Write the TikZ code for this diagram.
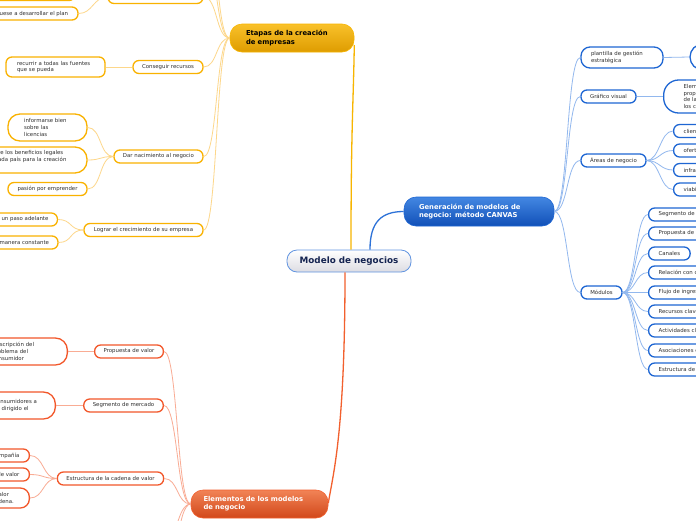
\documentclass[tikz,border=0pt]{standalone}
\usepackage{fontspec}
\setmainfont{DejaVu Sans}
\usetikzlibrary{calc}

\definecolor{txt}{HTML}{303030}
\definecolor{ogline}{HTML}{F7B500}
\definecolor{oglight}{HTML}{FDD78A}
\definecolor{ogbox}{HTML}{F9B200}
\definecolor{ogtop}{HTML}{F9C12A}
\definecolor{ogbot}{HTML}{DE9C00}
\definecolor{blline}{HTML}{2D72D8}
\definecolor{bllight}{HTML}{92B8EE}
\definecolor{blbox}{HTML}{1E66D3}
\definecolor{bltop}{HTML}{4387E2}
\definecolor{blbot}{HTML}{1150B8}
\definecolor{rdline}{HTML}{F2602E}
\definecolor{rdlight}{HTML}{F9AC94}
\definecolor{rdbox}{HTML}{F2572A}
\definecolor{rdtop}{HTML}{F18356}
\definecolor{rdbot}{HTML}{D2481A}

\tikzset{
  box/.style={draw=#1, line width=1.3pt, fill=white, rounded corners=6pt, text=txt,
    font=\fontsize{5.4}{6.9}\selectfont, minimum height=13pt, inner xsep=9pt, inner ysep=2pt},
  multi/.style={align=left},
  topic/.style n args={3}{top color=#1, bottom color=#2, draw=#3, line width=0.6pt,
    rounded corners=12pt, align=left, minimum height=28pt, inner ysep=3pt,
    font=\bfseries\fontsize{6.8}{8.2}\selectfont},
  twig/.style={draw=#1, line width=0.8pt},
  trunk/.style={draw=#1, line width=1.3pt},
}

\begin{document}
\begin{tikzpicture}[x=1pt, y=-1pt]
  \path[use as bounding box] (0,0) rectangle (696,520);
  \clip (0,0) rectangle (696,520);
  \fill[white] (0,0) rectangle (696,520);

  % ------------------------------------------------------------------ centre
  \node[top color=white, bottom color=blue!10!gray!25, draw=blbox!70, line width=0.8pt,
        rounded corners=10pt, minimum width=124pt, minimum height=22pt,
        text={rgb,255:red,20;green,35;blue,80}, font=\bfseries\fontsize{8.8}{10}\selectfont]
    (modelo) at (349,261) {Modelo de negocios};

  % ------------------------------------------------------------------ etapas (orange)
  \node[topic={ogtop}{ogbot}{ogline}, text=black, text width=92pt, inner xsep=16pt]
    (etapas) at (292,38) {Etapas de la creación\\de empresas};
  \node[box=ogbox, minimum width=95pt] (plan) at (155.5,-3) {Hacer un plan de negocio};
  \node[box=ogbox, minimum width=90pt] (plantop) at (30,-6) {};
  \node[box=ogbox, minimum width=104pt] (dedicar) at (26,13.5) {Dedíquese a desarrollar el plan};
  \node[box=ogbox, minimum width=70pt] (recursos) at (168,67) {Conseguir recursos};
  \node[box=ogbox, multi, text width=77pt, inner xsep=11pt, minimum height=20pt]
    (fuentes) at (55.5,67) {recurrir a todas las fuentes\\que se pueda};
  \node[box=ogbox, minimum width=89pt] (nacimiento) at (158.5,156.5) {Dar nacimiento al negocio};
  \node[box=ogbox, multi, text width=47pt, inner xsep=16pt, minimum height=27pt, rounded corners=12pt]
    (licencias) at (47.5,127.5) {informarse bien\\sobre las\\licencias};
  \node[box=ogbox, multi, text width=112pt, inner xsep=10.5pt, minimum height=26pt, rounded corners=12pt]
    (legales) at (20.5,160) {Conocer sobre los beneficios legales\\que ofrece cada país para la creación\\de empresas};
  \node[box=ogbox, minimum width=79pt] (pasion) at (47.5,189) {pasión por emprender};
  \node[box=ogbox, minimum width=119pt] (crecimiento) at (143.5,230) {Lograr el crecimiento de su empresa};
  \node[box=ogbox, minimum width=93pt] (adelante) at (10.5,219.5) {Ir siempre un paso adelante};
  \node[box=ogbox, minimum width=96pt] (constante) at (9,242.5) {Innovar de manera constante};
  \coordinate (up1) at (204,-40);
  \coordinate (up2) at (204,-80);

  \foreach \c in {plan,recursos,nacimiento,crecimiento}
    \draw[twig=oglight] (etapas.west) .. controls +(-14,0) and +(14,0) .. (\c.east);
  \foreach \c in {up1,up2}
    \draw[twig=oglight] (etapas.west) .. controls +(-14,0) and +(14,0) .. (\c);
  \foreach \p/\c in {plan/plantop, plan/dedicar, recursos/fuentes, nacimiento/licencias,
      nacimiento/legales, nacimiento/pasion, crecimiento/adelante, crecimiento/constante}
    \draw[twig=oglight] (\p.west) .. controls +(-14,0) and +(14,0) .. (\c.east);

  % ------------------------------------------------------------------ CANVAS (blue)
  \node[topic={bltop}{blbot}{blbox}, text=white, text width=120pt, inner xsep=15pt, minimum height=29pt]
    (canvas) at (479,211.5) {Generación de modelos de\\negocio: método CANVAS};
  \node[box=blbox, multi, text width=62pt, inner xsep=10pt, minimum height=21pt, rounded corners=9pt]
    (plantilla) at (622,57.5) {plantilla de gestión\\estratégica};
  \node[box=blbox, minimum width=80pt, minimum height=26pt, rounded corners=13pt] (lienzo) at (730,57) {};
  \node[box=blbox, minimum width=55pt] (grafico) at (608.5,96.5) {Gráfico visual};
  \node[box=blbox, multi, text width=70pt, inner xsep=20pt, minimum height=33pt, rounded corners=15pt, anchor=west]
    (elem) at (663,96.5) {Elementos de la\\propuesta de valor\\de la empresa y\\los clientes};
  \node[box=blbox, minimum width=65pt] (areas) at (613.5,160.5) {Áreas de negocio};
  \foreach \n/\y/\t in {cli/131/clientes, ofe/150.5/oferta, inf/170/infraestructura, via/189.5/viabilidad}
    \node[box=blbox, anchor=west, inner xsep=10pt] (\n) at (673,\y) {\t};
  \node[box=blbox, minimum width=41pt] (modulos) at (601.5,292.5) {Módulos};
  \foreach \n/\y/\t in {m1/214.5/Segmento de clientes, m2/233.5/Propuesta de valor, m3/253.5/Canales,
      m4/272.5/Relación con clientes, m5/292.5/Flujo de ingresos, m6/311.5/Recursos clave,
      m7/330.5/Actividades clave, m8/350.5/Asociaciones clave, m9/369.5/Estructura de costos}
    \node[box=blbox, anchor=west, inner xsep=10pt] (\n) at (648,\y) {\t};

  \foreach \c in {plantilla,grafico,areas,modulos}
    \draw[twig=bllight] (canvas.east) .. controls +(14,0) and +(-14,0) .. (\c.west);
  \foreach \p/\c in {plantilla/lienzo, grafico/elem, areas/cli, areas/ofe, areas/inf, areas/via,
      modulos/m1, modulos/m2, modulos/m3, modulos/m4, modulos/m5, modulos/m6, modulos/m7, modulos/m8, modulos/m9}
    \draw[twig=bllight] (\p.east) .. controls +(13,0) and +(-13,0) .. (\c.west);

  % ------------------------------------------------------------------ elementos (red)
  \node[topic={rdtop}{rdbot}{rdline}, text=white, text width=112pt, inner xsep=12.5pt]
    (elementos) at (259.5,504) {Elementos de los modelos\\de negocio};
  \node[box=rdbox, minimum width=68pt] (propuesta) at (129,351.5) {Propuesta de valor};
  \node[box=rdbox, multi, text width=59pt, inner xsep=16pt, minimum height=27pt, rounded corners=12pt, anchor=east]
    (descripcion) at (68,351.5) {Descripción del\\problema del\\consumidor};
  \node[box=rdbox, minimum width=79pt] (segmento) at (123.5,405.5) {Segmento de mercado};
  \node[box=rdbox, multi, text width=46pt, inner xsep=16pt, minimum height=27pt, rounded corners=12pt, anchor=east]
    (consumidores) at (56,405.5) {Consumidores a\\va dirigido el};
  \node[box=rdbox, minimum width=105pt] (cadena) at (110.5,478.5) {Estructura de la cadena de valor};
  \node[box=rdbox, anchor=east, inner xsep=10pt] (compania) at (30,455.5) {Actividades de la compañía};
  \node[box=rdbox, anchor=east, inner xsep=10pt] (valorac) at (30,474.5) {Cadena de valor};
  \node[box=rdbox, multi, text width=56pt, inner xsep=10pt, minimum height=20pt, rounded corners=9pt, anchor=east]
    (margen) at (30,498) {Margen del valor\\de toda la cadena.};
  \coordinate (dn1) at (163,545);
  \coordinate (dn2) at (163,580);

  \foreach \c in {propuesta,segmento,cadena}
    \draw[twig=rdlight] (elementos.west) .. controls +(-14,0) and +(14,0) .. (\c.east);
  \foreach \c in {dn1,dn2}
    \draw[twig=rdlight] (elementos.west) .. controls +(-14,0) and +(14,0) .. (\c);
  \foreach \p/\c in {propuesta/descripcion, segmento/consumidores, cadena/compania, cadena/valorac, cadena/margen}
    \draw[twig=rdlight] (\p.west) .. controls +(-14,0) and +(14,0) .. (\c.east);

  % ------------------------------------------------------------------ trunks
  \draw[trunk=ogline] ([xshift=2pt]modelo.north) .. controls +(0,-120) and +(-1,60) .. ([yshift=-7pt]etapas.east);
  \draw[trunk=blline] ([xshift=21pt]modelo.north) .. controls +(0,-28) and +(-22,0) .. (canvas.west);
  \draw[trunk=rdline] ([xshift=-4pt]modelo.south) .. controls +(0,160) and +(5,-30) .. ([yshift=1pt]elementos.east);
\end{tikzpicture}
\end{document}
